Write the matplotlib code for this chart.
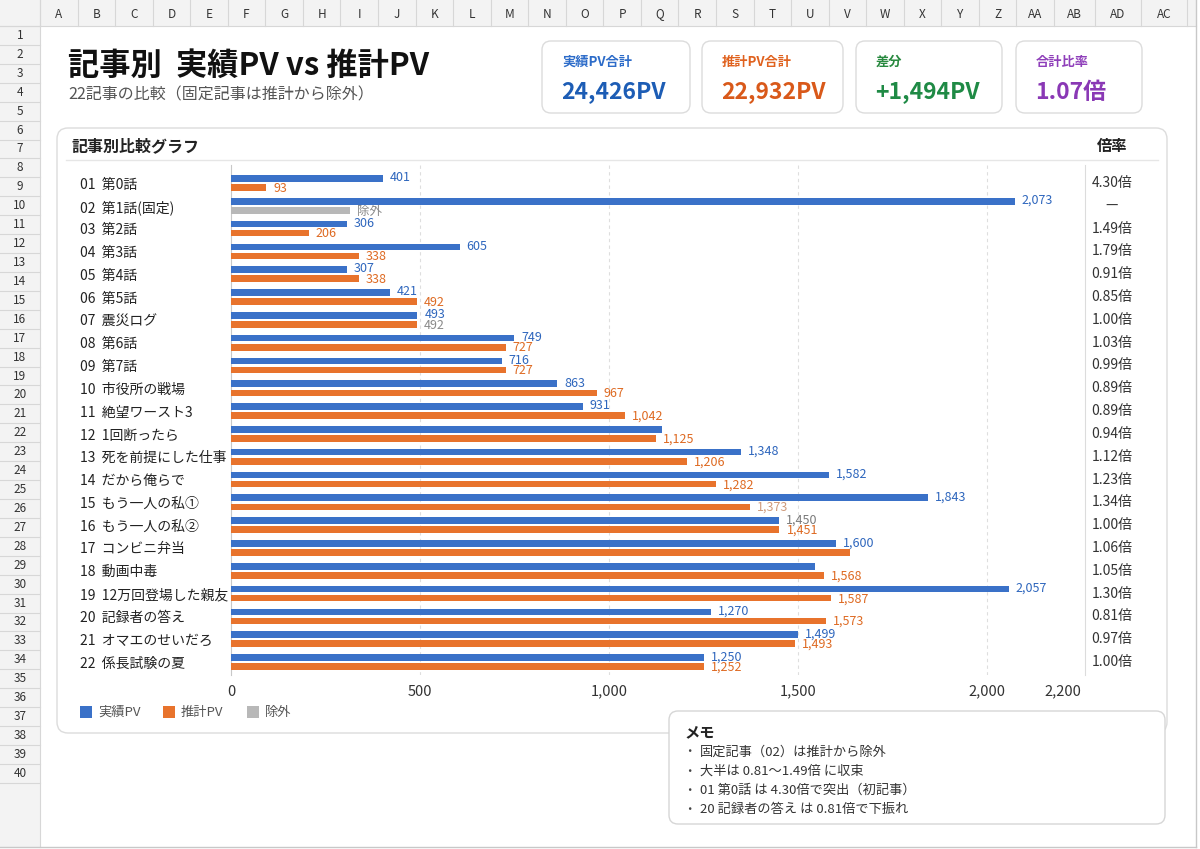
import numpy as np
import matplotlib.pyplot as plt
from matplotlib.patches import FancyBboxPatch, Rectangle
from matplotlib.transforms import blended_transform_factory

plt.rcParams['font.family'] = ['Noto Sans CJK JP', 'DejaVu Sans']

# ---- data ----
categories = ["01 第0話", "02 第1話(固定)", "03 第2話", "04 第3話", "05 第4話",
              "06 第5話", "07 震災ログ", "08 第6話", "09 第7話", "10 市役所の戦場",
              "11 絶望ワースト3", "12 1回断ったら", "13 死を前提にした仕事",
              "14 だから俺らで", "15 もう一人の私①", "16 もう一人の私②",
              "17 コンビニ弁当", "18 動画中毒", "19 12万回登場した親友",
              "20 記録者の答え", "21 オマエのせいだろ", "22 係長試験の夏"]
actual_pv = [401, 2073, 306, 605, 307, 421, 493, 749, 716, 863, 931,
             1140, 1348, 1582, 1843, 1450, 1600, 1545, 2057, 1270, 1499, 1250]
estimate_pv = [93, None, 206, 338, 338, 492, 492, 727, 727, 967, 1042,
               1125, 1206, 1282, 1373, 1451, 1638, 1568, 1587, 1573, 1493, 1252]
ratio_labels = ["4.30倍", "—", "1.49倍", "1.79倍", "0.91倍", "0.85倍", "1.00倍",
                "1.03倍", "0.99倍", "0.89倍", "0.89倍", "0.94倍", "1.12倍",
                "1.23倍", "1.34倍", "1.00倍", "1.06倍", "1.05倍", "1.30倍",
                "0.81倍", "0.97倍", "1.00倍"]
excluded_bar = 315          # placeholder length of the grey "除外" bar
hide_actual_label = {11, 17}
hide_estimate_label = {16}

xticks = [0, 500, 1000, 1500, 2000, 2200]
xtick_labels = ["0", "500", "1,000", "1,500", "2,000", "2,200"]

kpi_titles = ["実績PV合計", "推計PV合計", "差分", "合計比率"]
kpi_values = ["24,426PV", "22,932PV", "+1,494PV", "1.07倍"]

memo_lines = ["固定記事（02）は推計から除外",
              "大半は 0.81〜1.49倍 に収束",
              "01 第0話 は 4.30倍で突出（初記事）",
              "20 記録者の答え は 0.81倍で下振れ"]

col_names = [chr(c) for c in range(ord("A"), ord("Z") + 1)] + ["AA", "AB", "AD", "AC"]

BLUE = "#3a71c8"
ORANGE = "#e8732c"
GREY = "#b8b8b8"
BLUE_T = "#2e66bd"
ORANGE_T = "#de6a22"

W, H = 1200, 849
fig = plt.figure(figsize=(12, 8.49), dpi=100)
bg = fig.add_axes([0, 0, 1, 1])
bg.set_xlim(0, W)
bg.set_ylim(H, 0)
bg.axis("off")

# ---- spreadsheet frame ----
line_c = "#d7d7d7"
bg.add_patch(Rectangle((0, 0), 1196, 26, fc="#f3f3f3", ec="none"))
bg.add_patch(Rectangle((0, 0), 40, 847, fc="#f3f3f3", ec="none"))
col_w = [(1054 - 40) / 27] * 27 + [41, 46, 46]
x = 40
for name, w in zip(col_names, col_w):
    bg.plot([x, x], [0, 26], color=line_c, lw=0.8)
    bg.text(x + w / 2, 14, name, ha="center", va="center", fontsize=8.5, color="#333")
    x += w
bg.plot([x, x], [0, 26], color=line_c, lw=0.8)
bg.plot([0, 1196], [26, 26], color=line_c, lw=0.8)
row_h = 18.92
for r in range(41):
    y = 26 + row_h * r
    bg.plot([0, 40], [y, y], color=line_c, lw=0.8)
    if r < 40:
        bg.text(20, y + row_h / 2, str(r + 1), ha="center", va="center",
                fontsize=8.5, color="#333")
bg.plot([40, 40], [0, 847], color=line_c, lw=0.8)
bg.plot([1196, 1196], [0, 847], color="#c8c8c8", lw=1)
bg.plot([0, 1196], [847, 847], color="#c8c8c8", lw=1)

# ---- title ----
bg.text(68, 66, "記事別  実績PV vs 推計PV", fontsize=22.5, fontweight="bold",
        va="center", color="#111")
bg.text(68, 95, "22記事の比較（固定記事は推計から除外）", fontsize=11.5,
        va="center", color="#555")

# ---- KPI cards ----
cards = [(542, 148), (702, 141), (856, 146), (1016, 126)]
t_cols = ["#2d6cc9", "#e0621f", "#28893f", "#8f3fba"]
v_cols = ["#1d5db5", "#d9591a", "#1f8a45", "#8a38b5"]
for (cx, cw), t, v, tc, vc in zip(cards, kpi_titles, kpi_values, t_cols, v_cols):
    bg.add_patch(FancyBboxPatch((cx, 41), cw, 72, boxstyle="round,pad=0,rounding_size=9",
                                fc="white", ec="#dcdcdc", lw=1))
    bg.text(cx + 20, 62, t, fontsize=9.5, fontweight="bold", color=tc, va="center")
    bg.text(cx + 19, 92, v, fontsize=16.5, fontweight="bold", color=vc, va="center")

# ---- chart panel ----
bg.add_patch(FancyBboxPatch((57, 128), 1110, 605, boxstyle="round,pad=0,rounding_size=11",
                            fc="white", ec="#dcdcdc", lw=1))
bg.text(72, 146, "記事別比較グラフ", fontsize=11.5, fontweight="bold", va="center", color="#222")
bg.text(1112, 146, "倍率", fontsize=11, fontweight="bold", ha="center", va="center", color="#222")
bg.plot([66, 1158], [160, 160], color="#e6e6e6", lw=1)

# legend
leg = [(80, BLUE, "実績PV"), (163, ORANGE, "推計PV"), (247, GREY, "除外")]
for lx, c, s in leg:
    bg.add_patch(Rectangle((lx, 706), 12, 12, fc=c, ec="none"))
    bg.text(lx + 18, 712.5, s, fontsize=9.5, va="center", color="#555")

# memo box
bg.add_patch(FancyBboxPatch((669, 711), 496, 113, boxstyle="round,pad=0,rounding_size=9",
                            fc="white", ec="#d6d6d6", lw=1))
bg.text(684, 732, "メモ", fontsize=11, fontweight="bold", va="center", color="#222")
for k, s in enumerate(memo_lines):
    yy = 752 + 19.2 * k
    bg.text(689, yy, "・", fontsize=9, va="center", ha="center", color="#444")
    bg.text(700, yy, s, fontsize=9.5, va="center", color="#333")

# ---- bar chart ----
ax_l, ax_r, ax_t, ax_b = 231, 1085, 165, 675
ax = fig.add_axes([ax_l / W, 1 - ax_b / H, (ax_r - ax_l) / W, (ax_b - ax_t) / H])
ax.set_facecolor("none")
n = len(categories)
rows = np.arange(n)
row_px = (662 - 183) / (n - 1)
ax.set_ylim(n - 1 + (ax_b - 662) / row_px, -(183 - ax_t) / row_px)
ax.set_xlim(0, (ax_r - ax_l) / 0.378)

bh = 0.29
off = 0.2
ax.barh(rows - off, actual_pv, height=bh, color=BLUE, zorder=3)
est_rows = [i for i in rows if estimate_pv[i] is not None]
ax.barh([i + off for i in est_rows], [estimate_pv[i] for i in est_rows],
        height=bh, color=ORANGE, zorder=3)
ex_rows = [i for i in rows if estimate_pv[i] is None]
ax.barh([i + off for i in ex_rows], [excluded_bar] * len(ex_rows),
        height=bh, color=GREY, zorder=3)

act_col = {15: "#7a7a7a"}
est_col = {6: "#8a8a8a", 14: "#cf9a7a"}
vfs = 9
for i in rows:
    if i not in hide_actual_label:
        ax.annotate(f"{actual_pv[i]:,}", (actual_pv[i], i - off), xytext=(5, 0.5),
                    textcoords="offset points", va="center", fontsize=vfs,
                    color=act_col.get(i, BLUE_T), zorder=4)
    if estimate_pv[i] is None:
        ax.annotate("除外", (excluded_bar, i + off), xytext=(5, -0.5),
                    textcoords="offset points", va="center", fontsize=vfs,
                    color="#888", zorder=4)
    elif i not in hide_estimate_label:
        ax.annotate(f"{estimate_pv[i]:,}", (estimate_pv[i], i + off), xytext=(5, -0.5),
                    textcoords="offset points", va="center", fontsize=vfs,
                    color=est_col.get(i, ORANGE_T), zorder=4)

# ratio column
tr = blended_transform_factory(ax.transAxes, ax.transData)
rx = (1112 - ax_l) / (ax_r - ax_l)
for i, s in enumerate(ratio_labels):
    ax.text(rx, i, s, transform=tr, ha="center", va="center", fontsize=10,
            color="#333", clip_on=False)

ax.set_yticks(rows, [c.replace(" ", "  ", 1) for c in categories])
ax.tick_params(axis="y", length=0, pad=(ax_l - 80) * 0.72, labelsize=10, labelcolor="#222")
for lb in ax.get_yticklabels():
    lb.set_ha("left")
ax.set_xticks(xticks, xtick_labels)
ax.tick_params(axis="x", length=0, pad=7, labelsize=10.5, labelcolor="#333")
for gx in xticks[1:-1]:
    ax.axvline(gx, color="#dedede", lw=0.8, ls=(0, (3, 3)), zorder=1)
for side in ["top", "bottom"]:
    ax.spines[side].set_visible(False)
ax.spines["left"].set_color("#c8c8c8")
ax.spines["right"].set_color("#dcdcdc")

fig.savefig("out.png", dpi=100)
